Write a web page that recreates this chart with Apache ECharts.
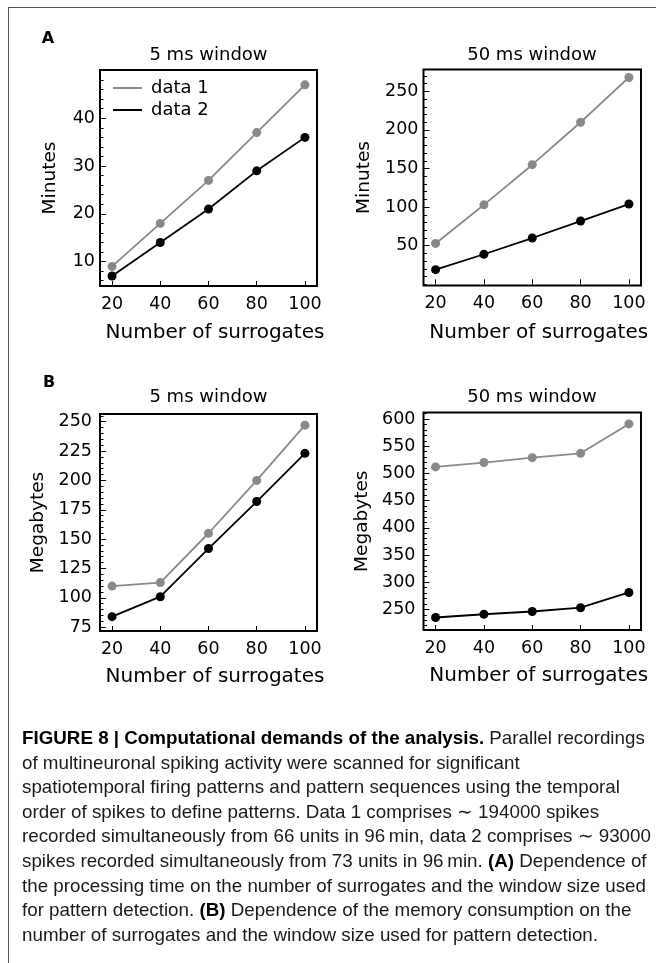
<!DOCTYPE html>
<html><head><meta charset="utf-8">
<script src="https://cdn.jsdelivr.net/npm/echarts@6/dist/echarts.min.js"></script>
<style>html,body{margin:0;padding:0;background:#fff}#c{width:656px;height:963px}</style>
</head><body><div id="c"></div>
<script>
// ---- data ----
const surrogates = [20, 40, 60, 80, 100];
const minutes5_data1 = [9, 18, 27, 37, 47];
const minutes5_data2 = [7, 14, 21, 29, 36];
const minutes50_data1 = [53, 103, 155, 210, 268];
const minutes50_data2 = [19, 39, 60, 82, 104];
const mb5_data1 = [110, 113, 155, 200, 247];
const mb5_data2 = [84, 101, 142, 182, 223];
const mb50_data1 = [512, 520, 529, 537, 591];
const mb50_data2 = [235, 241, 246, 253, 281];
const xTicks = [20, 40, 60, 80, 100];
const yTicksA5 = [10, 20, 30, 40];
const yTicksA50 = [50, 100, 150, 200, 250];
const yTicksB5 = [75, 100, 125, 150, 175, 200, 225, 250];
const yTicksB50 = [250, 300, 350, 400, 450, 500, 550, 600];
const seriesNames = ['data 1', 'data 2'];
const panelTitles = ['5 ms window', '50 ms window', '5 ms window', '50 ms window'];
const yNames = ['Minutes', 'Minutes', 'Megabytes', 'Megabytes'];
const xName = 'Number of surrogates';
const captionLines = [
  '{b|FIGURE 8 | Computational demands of the analysis.} Parallel recordings',
  'of multineuronal spiking activity were scanned for significant',
  'spatiotemporal firing patterns and pattern sequences using the temporal',
  'order of spikes to define patterns. Data 1 comprises \u223C 194000 spikes',
  'recorded simultaneously from 66 units in 96\u2009min, data 2 comprises \u223C 93000',
  'spikes recorded simultaneously from 73 units in 96\u2009min. {b|(A)} Dependence of',
  'the processing time on the number of surrogates and the window size used',
  'for pattern detection. {b|(B)} Dependence of the memory consumption on the',
  'number of surrogates and the window size used for pattern detection.'
];

// ---- layout ----
const FONT = 'DejaVu Sans';
const GRAY = '#898989';
function minorTicks(lo, hi, step, majors) {
  const out = [];
  for (let v = lo; v <= hi + 1e-9; v += step) {
    const r = Math.round(v * 1000) / 1000;
    if (!majors.includes(r)) out.push(r);
  }
  return out;
}
const panels = [
  {grid: {left: 100, top: 70, width: 217, height: 216}, min: 4.9, max: 50.1, majors: yTicksA5,
   minors: minorTicks(6, 50, 2, yTicksA5), d1: minutes5_data1, d2: minutes5_data2, nameGap: 40, labMargin: 5, xNameGap: 37},
  {grid: {left: 423.5, top: 69.5, width: 217.5, height: 216}, min: -1.5, max: 278.3, majors: yTicksA50,
   minors: minorTicks(0, 270, 10, yTicksA50), d1: minutes50_data1, d2: minutes50_data2, nameGap: 50, labMargin: 5, xNameGap: 37},
  {grid: {left: 100, top: 414, width: 217, height: 217}, min: 71.8, max: 256.5, majors: yTicksB5,
   minors: minorTicks(75, 255, 5, yTicksB5), d1: mb5_data1, d2: mb5_data2, nameGap: 52, labMargin: 8, xNameGap: 36},
  {grid: {left: 423.5, top: 412.5, width: 217.5, height: 217.5}, min: 212, max: 612, majors: yTicksB50,
   minors: minorTicks(220, 610, 10, yTicksB50), d1: mb50_data1, d2: mb50_data2, nameGap: 52, labMargin: 8, xNameGap: 36}
];

const grids = [], xAxes = [], yAxes = [], series = [];
panels.forEach((p, i) => {
  grids.push(Object.assign({show: true, borderColor: '#000', borderWidth: 2, backgroundColor: 'transparent'}, p.grid));
  xAxes.push({
    type: 'value', gridIndex: i, min: 15, max: 105,
    name: xName, nameLocation: 'middle', nameGap: p.xNameGap,
    nameTextStyle: {fontFamily: FONT, fontSize: 20, color: '#000', padding: [0, 0, 0, 13]},
    axisLine: {show: false},
    axisTick: {show: true, inside: true, length: 5, customValues: xTicks, lineStyle: {color: '#000', width: 1}},
    axisLabel: {show: true, customValues: xTicks, margin: 9, fontFamily: FONT, fontSize: 17.5, color: '#000'},
    splitLine: {show: false}
  });
  yAxes.push({
    type: 'value', gridIndex: i, position: 'left', min: p.min, max: p.max,
    name: yNames[i], nameLocation: 'middle', nameGap: p.nameGap,
    nameTextStyle: {fontFamily: FONT, fontSize: 18.5, color: '#000'},
    axisLine: {show: false},
    axisTick: {show: true, inside: true, length: 6, customValues: p.majors, lineStyle: {color: '#000', width: 1}},
    axisLabel: {show: true, customValues: p.majors, margin: p.labMargin, fontFamily: FONT, fontSize: 17.5, color: '#000'},
    splitLine: {show: false}
  });
  yAxes.push({
    type: 'value', gridIndex: i, position: 'left', min: p.min, max: p.max,
    axisLine: {show: false},
    axisTick: {show: true, inside: true, length: 3.5, customValues: p.minors, lineStyle: {color: '#000', width: 1}},
    axisLabel: {show: false},
    splitLine: {show: false}
  });
  [p.d1, p.d2].forEach((d, k) => {
    const col = k === 0 ? GRAY : '#000';
    series.push({
      type: 'line', name: seriesNames[k], xAxisIndex: i, yAxisIndex: i * 2,
      data: surrogates.map((x, j) => [x, d[j]]),
      symbol: 'circle', symbolSize: 9, showSymbol: true,
      lineStyle: {color: col, width: 1.8}, itemStyle: {color: col},
      z: 3 + k
    });
  });
});

// caption scaling to match the reference line lengths
const ctx = document.createElement('canvas').getContext('2d');
const capFont = 'Liberation Sans';
const capSize = 19;
ctx.font = capSize + 'px "' + capFont + '"';
const refW = ctx.measureText(captionLines[6]).width;
const capScale = 624 / refW;

const graphic = [
  {type: 'line', shape: {x1: 8, y1: 7.5, x2: 656, y2: 7.5}, style: {stroke: '#555', lineWidth: 1}},
  {type: 'line', shape: {x1: 8.5, y1: 7.5, x2: 8.5, y2: 963}, style: {stroke: '#555', lineWidth: 1}},
  {type: 'text', x: 48, y: 39, style: {text: 'A', font: 'bold 16px "DejaVu Sans"', fill: '#000', align: 'center', verticalAlign: 'middle'}},
  {type: 'text', x: 49, y: 383, style: {text: 'B', font: 'bold 16px "DejaVu Sans"', fill: '#000', align: 'center', verticalAlign: 'middle'}}
];
const titlePos = [[208.5, 55], [532, 55], [208.5, 397], [532, 397]];
panelTitles.forEach((t, i) => {
  graphic.push({type: 'text', x: titlePos[i][0], y: titlePos[i][1],
    style: {text: t, fontFamily: FONT, fontSize: 18, fill: '#000', align: 'center', verticalAlign: 'middle'}});
});
captionLines.forEach((line, i) => {
  graphic.push({type: 'text', x: 22, y: 739 + i * 24.55, scaleX: capScale,
    style: {text: line, fontFamily: capFont, fontSize: capSize, fill: '#1a1a1a', align: 'left', verticalAlign: 'middle',
      rich: {b: {fontFamily: capFont, fontSize: capSize, fontWeight: 'bold', fill: '#000'}}}});
});

const chart = echarts.init(document.getElementById('c'), null, {renderer: 'canvas'});
chart.setOption({
  animation: false,
  backgroundColor: '#fff',
  textStyle: {fontFamily: FONT},
  grid: grids, xAxis: xAxes, yAxis: yAxes, series: series,
  legend: {
    show: true, orient: 'vertical', left: 113, top: 79, icon: 'rect', itemWidth: 29, itemHeight: 2, itemGap: 4,
    data: seriesNames, padding: 0,
    textStyle: {fontFamily: FONT, fontSize: 18, color: '#000', padding: [0, 0, 0, 4]}
  },
  graphic: graphic
});
</script></body></html>
